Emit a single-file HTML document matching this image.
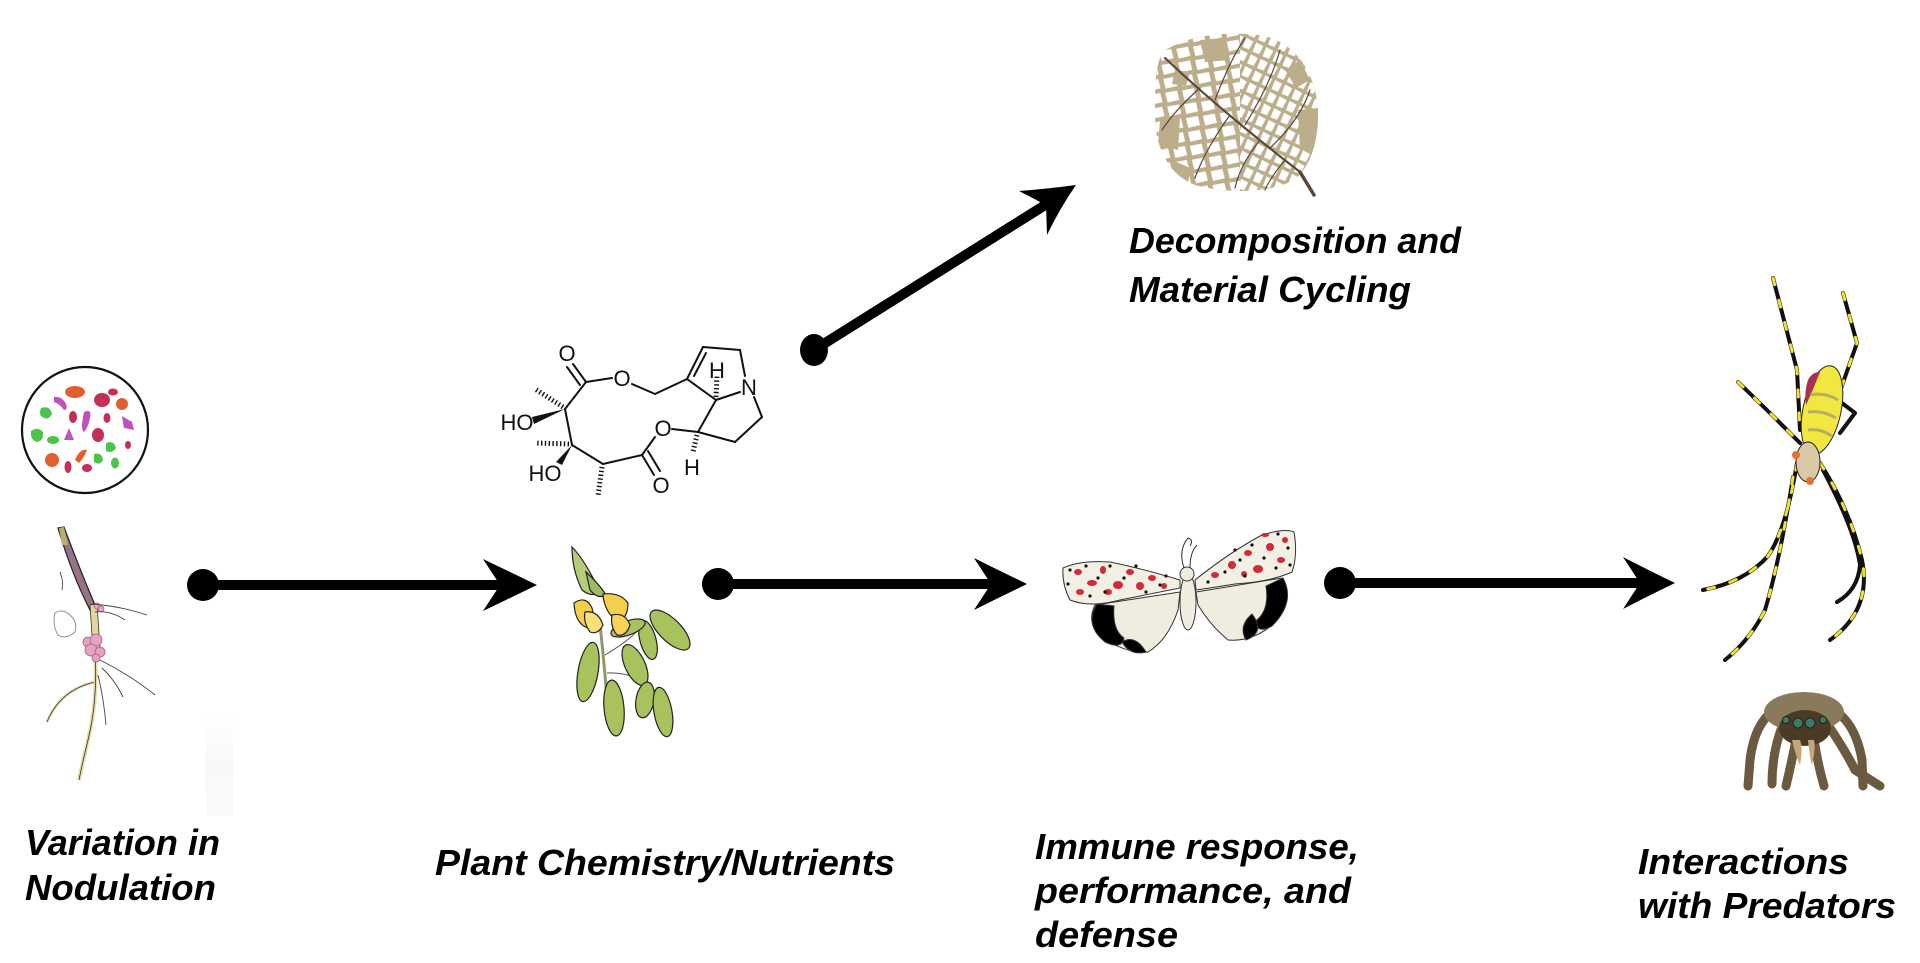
<!DOCTYPE html>
<html>
<head>
<meta charset="utf-8">
<style>
html,body{margin:0;padding:0;background:#fff;}
svg{display:block;}
.lbl{font-family:"Liberation Sans",Arial,sans-serif;font-weight:bold;font-style:italic;font-size:36px;fill:#000;}
.chem{font-family:"Liberation Sans",Arial,sans-serif;font-size:22px;fill:#111;}
</style>
</head>
<body>
<svg width="1920" height="963" viewBox="0 0 1920 963" xmlns="http://www.w3.org/2000/svg">
<defs>
  <pattern id="cells" width="17" height="14" patternUnits="userSpaceOnUse" patternTransform="rotate(-8)">
    <path d="M2,2 L14,1.5 L15,11 L3,12 Z" fill="#fff"/>
  </pattern>
  <pattern id="cells2" width="11" height="13" patternUnits="userSpaceOnUse" patternTransform="rotate(25)">
    <path d="M1.5,1.5 L9.5,2 L9,11 L2,11.5 Z" fill="#fff"/>
  </pattern>
  <clipPath id="leafclip">
    <path d="M1163,52 C1185,35 1230,30 1265,36 C1300,45 1318,80 1318,115 C1318,150 1305,175 1290,182 C1260,195 1220,192 1195,185 C1170,175 1155,150 1155,115 C1155,85 1155,65 1163,52 Z"/>
  </clipPath>
  <clipPath id="leafA"><rect x="1150" y="25" width="90" height="175"/></clipPath>
  <clipPath id="leafB"><rect x="1240" y="25" width="90" height="175"/></clipPath>
  <linearGradient id="faint" x1="0" y1="0" x2="0" y2="1">
    <stop offset="0" stop-color="#fff"/>
    <stop offset="0.5" stop-color="#f8f8f8"/>
    <stop offset="1" stop-color="#fbfbfb"/>
  </linearGradient>
</defs>

<!-- ================= Microbe circle ================= -->
<g>
  <circle cx="85" cy="430" r="63" fill="#fff" stroke="#111" stroke-width="2.2"/>
  <ellipse cx="75" cy="392" rx="10" ry="6" fill="#e0602e"/>
  <path d="M54,397 Q62,396 66,404 Q68,410 64,410 Q60,404 54,402 Z" fill="#c050c0"/>
  <ellipse cx="102" cy="400" rx="8" ry="7" fill="#c42f58"/>
  <ellipse cx="113" cy="392" rx="5" ry="3.5" fill="#c42f58"/>
  <circle cx="122" cy="404" r="6" fill="#e0602e"/>
  <path d="M41,408 Q50,405 52,414 Q49,420 44,418 Q38,416 41,408 Z" fill="#4ec24a"/>
  <ellipse cx="73" cy="417" rx="4" ry="6" fill="#c42f58"/>
  <path d="M84,412 Q92,408 90,418 Q88,428 84,432 Q80,430 84,412 Z" fill="#c050c0"/>
  <ellipse cx="107" cy="418" rx="3.5" ry="5" fill="#c42f58"/>
  <path d="M122,416 L132,422 L134,430 L124,428 Z" fill="#c050c0"/>
  <path d="M31,431 Q38,426 43,432 Q44,441 37,442 Q30,440 31,431 Z" fill="#4ec24a"/>
  <ellipse cx="53" cy="440" rx="6" ry="4" fill="#4ec24a"/>
  <path d="M64,440 L69,428 L74,440 Z" fill="#c050c0"/>
  <ellipse cx="98" cy="435" rx="6" ry="7" fill="#c42f58"/>
  <path d="M106,443 Q114,440 116,448 Q112,454 106,451 Z" fill="#4ec24a"/>
  <ellipse cx="128" cy="445" rx="3" ry="4" fill="#c42f58"/>
  <circle cx="52" cy="460" r="7" fill="#e0602e"/>
  <ellipse cx="68" cy="467" rx="3.5" ry="6" fill="#c42f58"/>
  <path d="M75,460 Q80,448 87,450 Q84,458 79,463 Z" fill="#e0602e"/>
  <path d="M94,454 Q102,452 103,460 Q100,466 94,462 Z" fill="#4ec24a"/>
  <ellipse cx="87" cy="468" rx="5" ry="4" fill="#c42f58"/>
  <ellipse cx="115" cy="463" rx="4" ry="5.5" fill="#4ec24a"/>
</g>

<!-- ================= Root ================= -->
<g>
  <rect x="205" y="712" width="28" height="104" fill="url(#faint)"/>
  <path d="M47,722 Q60,690 95,682" fill="none" stroke="#e8dca8" stroke-width="3"/>
  <path d="M47,722 Q60,690 95,682" fill="none" stroke="#333" stroke-width="0.8"/>
  <path d="M95,650 Q98,700 88,740 Q82,765 79,780" fill="none" stroke="#e8dca8" stroke-width="4"/>
  <path d="M95,650 Q98,700 88,740 Q82,765 79,780" fill="none" stroke="#333" stroke-width="0.8"/>
  <path d="M58,528 L64,527 Q80,570 95,605 L90,610 Q72,575 58,528 Z" fill="#9a7288" stroke="#222" stroke-width="1.2"/>
  <path d="M90,605 L97,604 L100,648 L93,650 Z" fill="#e3d6a0" stroke="#333" stroke-width="0.8"/>
  <path d="M59,528 L64,527 L68,545 L62,545 Z" fill="#b8b070"/>
  <g fill="#e6a2c0" stroke="#a2607a" stroke-width="0.8">
    <circle cx="88" cy="642" r="5"/><circle cx="96" cy="640" r="6"/><circle cx="91" cy="650" r="6"/>
    <circle cx="100" cy="652" r="5"/><circle cx="96" cy="658" r="4"/>
    <circle cx="97" cy="606" r="3"/><circle cx="101" cy="609" r="3"/>
  </g>
  <g fill="none" stroke="#444" stroke-width="0.9">
    <path d="M92,604 Q120,606 147,615"/>
    <path d="M95,612 Q110,610 125,620"/>
    <path d="M100,660 Q130,675 155,695"/>
    <path d="M102,668 Q115,680 123,697"/>
    <path d="M98,675 Q104,700 106,725"/>
    <path d="M55,613 Q62,608 70,615 Q78,622 75,632 Q66,640 58,635 Q52,625 55,613 Z" stroke="#888"/>
    <path d="M60,572 Q64,582 62,590"/>
  </g>
</g>

<!-- ================= Arrows ================= -->
<g fill="#000">
  <circle cx="203" cy="585" r="16"/>
  <rect x="203" y="580" width="300" height="10"/>
  <path d="M537,585 Q508,571 483,559 L500,585 L483,611 Q508,599 537,585 Z"/>
  <circle cx="718" cy="584" r="16"/>
  <rect x="718" y="579" width="275" height="10"/>
  <path d="M1027,584 Q998,570 974,558 L991,584 L974,610 Q998,598 1027,584 Z"/>
  <circle cx="1340" cy="583" r="16"/>
  <rect x="1340" y="578" width="302" height="10"/>
  <path d="M1675,583 Q1646,569 1623,557 L1640,583 L1623,609 Q1646,597 1675,583 Z"/>
  <ellipse cx="814" cy="350" rx="14" ry="16"/>
  <line x1="814" y1="350" x2="1050" y2="202" stroke="#000" stroke-width="10"/>
  <path d="M1076,185 Q1046,189 1019,191 L1046,205 L1047,235 Q1060,208 1076,185 Z"/>
</g>

<!-- ================= Chemical structure ================= -->
<g stroke="#111" stroke-width="2" fill="none" stroke-linecap="round">
  <line x1="586" y1="382" x2="573" y2="364"/>
  <line x1="580" y1="385" x2="567" y2="367"/>
  <line x1="586" y1="382" x2="612" y2="378"/>
  <line x1="632" y1="384" x2="655" y2="394"/>
  <line x1="655" y1="394" x2="687" y2="379"/>
  <line x1="687" y1="379" x2="703" y2="347"/>
  <line x1="694" y1="376" x2="706" y2="353"/>
  <line x1="703" y1="347" x2="740" y2="350"/>
  <line x1="740" y1="350" x2="745" y2="376"/>
  <line x1="740" y1="392" x2="716" y2="400"/>
  <line x1="754" y1="397" x2="762" y2="417"/>
  <line x1="762" y1="417" x2="735" y2="442"/>
  <line x1="735" y1="442" x2="698" y2="432"/>
  <line x1="698" y1="432" x2="716" y2="400"/>
  <line x1="716" y1="400" x2="687" y2="379"/>
  <line x1="698" y1="432" x2="672" y2="429"/>
  <line x1="655" y1="437" x2="642" y2="455"/>
  <line x1="642" y1="455" x2="654" y2="475"/>
  <line x1="648" y1="451" x2="660" y2="471"/>
  <line x1="642" y1="455" x2="603" y2="464"/>
  <line x1="603" y1="464" x2="572" y2="445"/>
  <line x1="572" y1="445" x2="565" y2="409"/>
  <line x1="565" y1="409" x2="586" y2="382"/>
</g>
<g stroke="#111" stroke-width="5" stroke-dasharray="1.4 2.4" fill="none">
  <line x1="563" y1="407" x2="535" y2="389"/>
  <line x1="569" y1="444" x2="535" y2="443"/>
  <line x1="602" y1="467" x2="598" y2="496"/>
  <line x1="716" y1="397" x2="717" y2="376"/>
  <line x1="697" y1="435" x2="693" y2="452"/>
</g>
<g fill="#111">
  <polygon points="565,409 532,417 534,424"/>
  <polygon points="572,445 556,462 562,465"/>
</g>
<g class="chem" text-anchor="middle">
  <text x="567" y="361">O</text>
  <text x="622" y="386">O</text>
  <text x="749" y="395">N</text>
  <text x="717" y="378">H</text>
  <text x="663" y="436">O</text>
  <text x="692" y="475">H</text>
  <text x="661" y="493">O</text>
  <text x="517" y="430">HO</text>
  <text x="545" y="481">HO</text>
</g>

<!-- ================= Leaf (decomposition) ================= -->
<g>
  <path d="M1163,52 C1185,35 1230,30 1265,36 C1300,45 1318,80 1318,115 C1318,150 1305,175 1290,182 C1260,195 1220,192 1195,185 C1170,175 1155,150 1155,115 C1155,85 1155,65 1163,52 Z" fill="#bcad8b"/>
  <g clip-path="url(#leafclip)">
    <g clip-path="url(#leafA)"><rect x="1150" y="25" width="175" height="175" fill="url(#cells)"/></g>
    <g clip-path="url(#leafB)"><rect x="1150" y="25" width="175" height="175" fill="url(#cells2)"/></g>
    <g fill="#bcad8b">
      <path d="M1200,40 L1225,38 L1230,60 L1205,62 Z"/>
      <path d="M1160,120 L1180,118 L1178,150 L1158,145 Z"/>
      <path d="M1298,110 L1318,108 L1318,150 L1300,150 Z"/>
      <path d="M1172,160 L1190,168 L1188,185 L1170,178 Z"/>
      <path d="M1175,70 L1190,72 L1186,86 L1172,84 Z"/>
      <path d="M1285,70 L1300,60 L1310,80 L1296,88 Z"/>
    </g>
  </g>
  <g fill="none" stroke="#5a4838" stroke-linecap="round">
    <path d="M1165,58 Q1220,110 1300,172" stroke-width="2.2"/>
    <path d="M1300,172 L1314,195" stroke-width="3.5"/>
    <path d="M1215,100 Q1230,60 1245,38" stroke-width="1.2"/>
    <path d="M1245,125 Q1270,85 1280,50" stroke-width="1.2"/>
    <path d="M1270,148 Q1300,120 1310,90" stroke-width="1.2"/>
    <path d="M1200,88 Q1175,110 1162,130" stroke-width="1.2"/>
    <path d="M1230,115 Q1205,150 1195,178" stroke-width="1.2"/>
    <path d="M1260,140 Q1240,165 1235,188" stroke-width="1.2"/>
    <path d="M1285,160 Q1270,178 1265,190" stroke-width="1.2"/>
  </g>
</g>

<!-- ================= Plant ================= -->
<g stroke="#222" stroke-width="1.2">
  <path d="M600,625 Q604,660 607,700" fill="none" stroke="#8a9a70" stroke-width="3"/>
  <path d="M605,655 Q630,640 640,628" fill="none" stroke="#555" stroke-width="1"/>
  <path d="M607,673 Q625,672 640,680" fill="none" stroke="#555" stroke-width="1"/>
  <ellipse cx="588" cy="672" rx="10" ry="30" fill="#a8c25e" transform="rotate(10 588 672)"/>
  <ellipse cx="614" cy="708" rx="10" ry="28" fill="#a8c25e" transform="rotate(-5 614 708)"/>
  <ellipse cx="635" cy="665" rx="10" ry="22" fill="#a8c25e" transform="rotate(-25 635 665)"/>
  <ellipse cx="645" cy="700" rx="9" ry="18" fill="#a8c25e" transform="rotate(10 645 700)"/>
  <ellipse cx="663" cy="712" rx="9" ry="25" fill="#a8c25e" transform="rotate(-10 663 712)"/>
  <ellipse cx="648" cy="640" rx="8" ry="20" fill="#a8c25e" transform="rotate(-15 648 640)"/>
  <ellipse cx="670" cy="630" rx="11" ry="26" fill="#a8c25e" transform="rotate(-45 670 630)"/>
  <ellipse cx="628" cy="628" rx="18" ry="7" fill="#a8c25e" transform="rotate(-20 628 628)"/>
  <path d="M572,547 Q585,560 600,592 Q592,598 582,590 Q572,570 572,547 Z" fill="#b5cd7a"/>
  <path d="M586,572 Q600,585 606,595 Q598,600 590,590 Z" fill="#9fba64"/>
  <path d="M574,603 Q586,595 592,608 Q596,622 588,628 Q575,624 574,603 Z" fill="#f5cf4a"/>
  <path d="M603,594 Q620,592 628,603 Q628,618 618,622 Q604,612 603,594 Z" fill="#f5cf4a"/>
  <path d="M585,612 Q598,610 603,625 Q598,635 590,632 Q583,622 585,612 Z" fill="#fbe07a"/>
  <path d="M612,615 Q625,612 630,625 Q626,637 617,635 Q610,627 612,615 Z" fill="#f7d458"/>
</g>

<!-- ================= Moth ================= -->
<g stroke="#333" stroke-width="1">
  <path d="M1180,592 L1095,605 Q1085,625 1105,640 Q1130,654 1148,652 Q1168,640 1178,610 Z" fill="#efece0"/>
  <path d="M1097,604 Q1084,625 1105,642 Q1122,650 1124,638 Q1112,630 1114,606 Z" fill="#000"/>
  <path d="M1122,642 Q1135,634 1146,652 Q1130,656 1122,642 Z" fill="#000"/>
  <path d="M1196,592 L1282,578 Q1294,600 1272,625 Q1252,642 1228,640 Q1210,625 1198,605 Z" fill="#efece0"/>
  <path d="M1283,578 Q1296,602 1272,626 Q1258,634 1254,622 Q1270,612 1266,586 Z" fill="#000"/>
  <path d="M1252,614 Q1266,632 1246,640 Q1238,626 1252,614 Z" fill="#000"/>
  <path d="M1180,580 Q1140,568 1110,562 Q1080,560 1063,568 Q1062,585 1070,600 Q1090,608 1120,600 Q1160,592 1180,588 Z" fill="#f2efe4"/>
  <path d="M1195,580 Q1230,552 1262,535 Q1285,528 1294,532 Q1298,555 1292,572 Q1270,582 1235,584 Q1210,588 1196,590 Z" fill="#f2efe4"/>
  <ellipse cx="1188" cy="602" rx="8" ry="28" fill="#efece0"/>
  <ellipse cx="1187" cy="574" rx="7" ry="7" fill="#efece0"/>
  <path d="M1184,568 Q1178,550 1188,538 Q1194,540 1190,546" fill="none"/>
  <path d="M1190,568 Q1190,552 1197,545" fill="none"/>
</g>
<g fill="#d42a35">
  <ellipse cx="1078" cy="572" rx="4" ry="3"/><ellipse cx="1092" cy="583" rx="5" ry="3"/>
  <ellipse cx="1103" cy="570" rx="3" ry="4"/><ellipse cx="1118" cy="585" rx="5" ry="4"/>
  <ellipse cx="1130" cy="572" rx="4" ry="3"/><ellipse cx="1140" cy="586" rx="4" ry="4"/>
  <ellipse cx="1152" cy="578" rx="4" ry="3"/><ellipse cx="1080" cy="592" rx="4" ry="3"/>
  <ellipse cx="1108" cy="592" rx="4" ry="3"/><ellipse cx="1164" cy="586" rx="3" ry="3"/>
  <ellipse cx="1232" cy="565" rx="4" ry="4"/><ellipse cx="1248" cy="553" rx="4" ry="3"/>
  <ellipse cx="1258" cy="569" rx="5" ry="4"/><ellipse cx="1270" cy="547" rx="4" ry="4"/>
  <ellipse cx="1281" cy="560" rx="4" ry="3"/><ellipse cx="1285" cy="540" rx="3" ry="3"/>
  <ellipse cx="1215" cy="575" rx="4" ry="3"/><ellipse cx="1265" cy="535" rx="4" ry="2"/>
  <ellipse cx="1244" cy="574" rx="3" ry="3"/>
</g>
<g fill="#111">
  <circle cx="1070" cy="570" r="1.6"/><circle cx="1086" cy="566" r="1.6"/><circle cx="1098" cy="578" r="1.6"/>
  <circle cx="1110" cy="566" r="1.6"/><circle cx="1124" cy="578" r="1.6"/><circle cx="1136" cy="566" r="1.6"/>
  <circle cx="1146" cy="592" r="1.6"/><circle cx="1160" cy="585" r="1.6"/><circle cx="1068" cy="584" r="1.6"/>
  <circle cx="1090" cy="596" r="1.6"/><circle cx="1105" cy="592" r="1.6"/><circle cx="1166" cy="576" r="1.6"/>
  <circle cx="1225" cy="572" r="1.6"/><circle cx="1240" cy="560" r="1.6"/><circle cx="1252" cy="545" r="1.6"/>
  <circle cx="1264" cy="558" r="1.6"/><circle cx="1276" cy="568" r="1.6"/><circle cx="1288" cy="548" r="1.6"/>
  <circle cx="1278" cy="534" r="1.6"/><circle cx="1245" cy="576" r="1.6"/><circle cx="1208" cy="582" r="1.6"/>
  <circle cx="1290" cy="565" r="1.6"/><circle cx="1235" cy="550" r="1.6"/>
</g>

<!-- ================= Orb spider ================= -->
<g fill="none" stroke-linecap="round" stroke-linejoin="round">
  <g stroke="#111" stroke-width="4">
    <polyline points="1773,278 1797,370 1800,430"/>
    <polyline points="1843,293 1857,343 1845,377 1838,397"/>
    <polyline points="1838,400 1855,413 1840,433"/>
    <polyline points="1738,382 1772,415 1800,443"/>
    <path d="M1797,463 Q1786,530 1768,556 Q1745,582 1703,590"/>
    <path d="M1793,477 Q1780,560 1765,610 Q1750,640 1725,660"/>
    <path d="M1820,463 Q1850,510 1862,560 Q1872,610 1830,640"/>
    <path d="M1823,470 Q1855,530 1860,565 Q1858,590 1837,602"/>
  </g>
  <g stroke="#f0e030" stroke-width="3" stroke-dasharray="7 16">
    <polyline points="1773,278 1797,370 1800,430"/>
    <polyline points="1843,293 1857,343 1845,377 1838,397"/>
    <polyline points="1738,382 1772,415 1800,443"/>
    <path d="M1797,463 Q1786,530 1768,556 Q1745,582 1703,590"/>
    <path d="M1793,477 Q1780,560 1765,610 Q1750,640 1725,660"/>
    <path d="M1820,463 Q1850,510 1862,560 Q1872,610 1830,640"/>
  </g>
</g>
<g stroke="#222" stroke-width="1">
  <ellipse cx="1822" cy="410" rx="19" ry="45" fill="#f2e640" transform="rotate(12 1822 410)"/>
  <path d="M1808,380 Q1812,372 1820,372 Q1812,392 1806,405 Q1804,392 1808,380 Z" fill="#a83050" stroke="none"/>
  <g stroke="#a8a070" stroke-width="3" fill="none" opacity="0.8">
    <path d="M1810,395 Q1825,392 1838,400"/>
    <path d="M1808,412 Q1823,410 1836,418"/>
    <path d="M1808,430 Q1820,428 1832,436"/>
  </g>
  <ellipse cx="1808" cy="462" rx="12" ry="20" fill="#d9c9a6"/>
  <circle cx="1796" cy="455" r="4" fill="#e8702a" stroke="none"/>
  <circle cx="1810" cy="481" r="4" fill="#e8702a" stroke="none"/>
</g>

<!-- ================= Jumping spider ================= -->
<g>
  <g stroke="#6a5a40" stroke-width="9" stroke-linecap="round" fill="none">
    <path d="M1778,708 Q1755,720 1750,760 L1748,786"/>
    <path d="M1784,722 Q1772,750 1772,784"/>
    <path d="M1830,708 Q1855,720 1862,760 L1863,786"/>
    <path d="M1826,722 Q1845,750 1855,770 L1880,786"/>
    <path d="M1796,740 Q1791,765 1786,786"/>
    <path d="M1814,740 Q1818,765 1824,786"/>
  </g>
  <ellipse cx="1804" cy="712" rx="40" ry="20" fill="#8a7a5c"/>
  <ellipse cx="1805" cy="728" rx="26" ry="18" fill="#4a3a26"/>
  <path d="M1792,740 Q1797,760 1800,765 Q1803,748 1800,740 Z" fill="#c4a878"/>
  <path d="M1808,740 Q1810,760 1812,765 Q1816,748 1814,740 Z" fill="#c4a878"/>
  <circle cx="1786" cy="720" r="3.5" fill="#3c7a68" stroke="#222"/>
  <circle cx="1798" cy="723" r="5" fill="#3c7a68" stroke="#222"/>
  <circle cx="1810" cy="723" r="5" fill="#3c7a68" stroke="#222"/>
  <circle cx="1823" cy="720" r="3.5" fill="#3c7a68" stroke="#222"/>
</g>

<!-- ================= Labels ================= -->
<g class="lbl">
  <text x="25" y="855" textLength="195" lengthAdjust="spacingAndGlyphs">Variation in</text>
  <text x="25" y="900" textLength="191" lengthAdjust="spacingAndGlyphs">Nodulation</text>
  <text x="435" y="875" textLength="460" lengthAdjust="spacingAndGlyphs">Plant Chemistry/Nutrients</text>
  <text x="1035" y="859" textLength="324" lengthAdjust="spacingAndGlyphs">Immune response,</text>
  <text x="1035" y="903" textLength="316" lengthAdjust="spacingAndGlyphs">performance, and</text>
  <text x="1035" y="947" textLength="143" lengthAdjust="spacingAndGlyphs">defense</text>
  <text x="1638" y="874" textLength="211" lengthAdjust="spacingAndGlyphs">Interactions</text>
  <text x="1638" y="918" textLength="258" lengthAdjust="spacingAndGlyphs">with Predators</text>
  <text x="1129" y="253" textLength="332" lengthAdjust="spacingAndGlyphs">Decomposition and</text>
  <text x="1129" y="302" textLength="282" lengthAdjust="spacingAndGlyphs">Material Cycling</text>
</g>
</svg>
</body>
</html>
